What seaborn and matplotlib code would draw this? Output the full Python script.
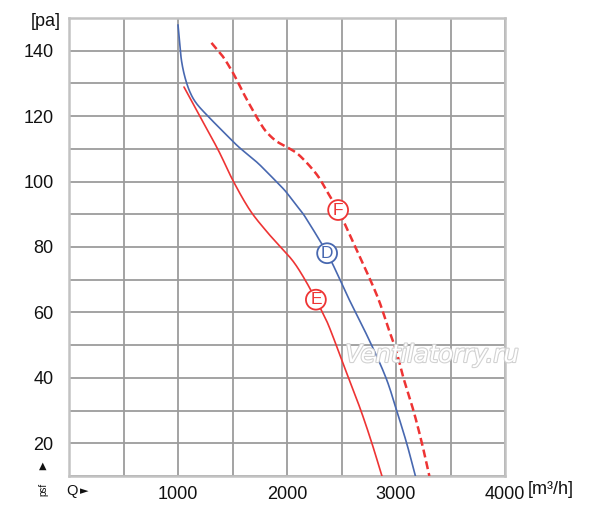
import numpy as np
import pandas as pd
import matplotlib
matplotlib.use("Agg")
import matplotlib.pyplot as plt
import matplotlib.patheffects as pe
import seaborn as sns

# ---- data ----
d_q = [1000, 1016, 1031, 1062, 1108, 1169, 1277, 1384, 1506, 1577, 1721, 1807, 1952, 2009,
       2120, 2178, 2368, 2500, 2571, 2755, 2908, 3006, 3098, 3178]
d_p = [147.9, 142.4, 137.2, 132.1, 127.5, 123.9, 119.9, 116.3, 112.2, 110.0, 106.0, 103.2, 98.3, 96.1,
       91.3, 88.6, 78.1, 69.0, 63.9, 51.5, 40.0, 30.0, 20.0, 10.0]

e_q = [1055, 1193, 1368, 1506, 1659, 1812, 1935, 2057, 2165, 2265, 2325, 2394, 2564, 2678, 2779, 2871]
e_p = [128.9, 120.4, 109.7, 100.2, 91.3, 84.8, 80.2, 75.6, 70.0, 63.9, 60.0, 55.0, 40.0, 30.0, 20.0, 10.0]

f_q = [1307, 1410, 1491, 1548, 1610, 1686, 1747, 1808, 1900, 1996, 2114, 2272, 2376, 2469,
       2512, 2696, 2836, 2926, 3000, 3068, 3160, 3238, 3306]
f_p = [142.4, 138.3, 134.0, 130.5, 126.4, 121.8, 118.3, 115.3, 112.4, 110.6, 108.0, 102.2, 96.5, 91.3,
       88.4, 75.0, 64.3, 55.5, 48.5, 40.0, 30.0, 20.0, 10.0]

curve_names = ["D", "E", "F"]
label_q = [2368, 2265, 2469]
label_p = [78.1, 63.9, 91.3]

x_ticks = [1000, 2000, 3000, 4000]
y_ticks = [20, 40, 60, 80, 100, 120, 140]

RED = "#ee3434"
BLUE = "#4868b0"
GRID = "#9c9c9c"


def smooth_path(q, p, n=12):
    """Catmull-Rom curve through the read points (drawing only)."""
    q = np.asarray(q, float)
    p = np.asarray(p, float)
    xs = q / 4000.0 * 436.0
    ys = p / 140.0 * 458.0
    pts = np.column_stack([xs, ys])
    pts = np.vstack([2 * pts[0] - pts[1], pts, 2 * pts[-1] - pts[-2]])
    out = []
    for i in range(1, len(pts) - 2):
        p0, p1, p2, p3 = pts[i - 1], pts[i], pts[i + 1], pts[i + 2]
        for t in np.linspace(0, 1, n, endpoint=False):
            t2, t3 = t * t, t * t * t
            pt = 0.5 * ((2 * p1) + (-p0 + p2) * t + (2 * p0 - 5 * p1 + 4 * p2 - p3) * t2
                        + (-p0 + 3 * p1 - 3 * p2 + p3) * t3)
            out.append(pt)
    out.append(pts[-2])
    out = np.array(out)
    return out[:, 0] / 436.0 * 4000.0, out[:, 1] / 458.0 * 140.0


frames = []
for name, q, p in zip(curve_names, [d_q, e_q, f_q], [d_p, e_p, f_p]):
    sq, sp = smooth_path(q, p)
    frames.append(pd.DataFrame({"Q": sq, "P": sp, "curve": name}))
df = pd.concat(frames, ignore_index=True)

sns.set_theme(style="white")
plt.rcParams["font.family"] = ["Liberation Sans", "DejaVu Sans"]

fig = plt.figure(figsize=(6.0, 5.13), dpi=100)
ax = fig.add_axes([69 / 600, 1 - 476 / 513, (505 - 69) / 600, (476 - 18) / 513])

palette = {"D": BLUE, "E": RED, "F": RED}
widths = {"D": 1.2, "E": 1.2, "F": 1.8}
for name in curve_names:
    sub = df[df["curve"] == name]
    sns.lineplot(data=sub, x="Q", y="P", sort=False, estimator=None, ax=ax,
                 color=palette[name], lw=widths[name],
                 linestyle=(0, (3.2, 1.6)) if name == "F" else "-",
                 zorder=3)

for name, q, p in zip(curve_names, label_q, label_p):
    c = palette[name]
    ax.text(q, p, name, color=c, fontsize=12.5, ha="center", va="center", zorder=5,
            bbox=dict(boxstyle="circle,pad=0.14", fc="white", ec=c, lw=1.3))

ax.set_xlim(0, 4000)
ax.set_ylim(10, 150)
ax.set_xticks(x_ticks)
ax.set_xticks(np.arange(0, 4001, 500), minor=True)
ax.set_yticks(y_ticks)
ax.set_yticks(np.arange(10, 151, 10), minor=True)
ax.set_xticklabels([str(v) for v in x_ticks])
ax.set_yticklabels([str(v) for v in y_ticks])
ax.grid(True, which="both", color=GRID, lw=1.3)
ax.tick_params(axis="both", which="both", length=0, labelsize=13, colors="#111111")
ax.tick_params(axis="y", pad=11)
ax.tick_params(axis="x", pad=7)
ax.set_xlabel("")
ax.set_ylabel("")
for s in ax.spines.values():
    s.set_color("#c2c2c2")
    s.set_linewidth(1.8)
ax.set_axisbelow(True)

fig.text(46 / 600, 1 - 22 / 513, "[pa]", fontsize=13, ha="center", va="center", color="#111111")
fig.text(528 / 600, 1 - 490 / 513, "[m³/h]", fontsize=13, ha="left", va="center", color="#111111")
fig.text(66 / 600, 1 - 491 / 513, "Q", fontsize=10.5, ha="left", va="center", color="#111111")
fig.text(80 / 600, 1 - 491 / 513, "►", fontsize=8, ha="left", va="center", color="#111111",
         family=["DejaVu Sans"])
fig.text(43 / 600, 1 - 466 / 513, "▲", fontsize=7, ha="center", va="center", color="#111111",
         family=["DejaVu Sans"])
fig.text(43 / 600, 1 - 489 / 513, "psf", fontsize=7, ha="center", va="center", rotation=90,
         color="#111111")

wm = ax.text((432 - 69) / 436, (476 - 355) / 458, "Ventilatorry.ru", transform=ax.transAxes,
             fontsize=17.5, style="italic", ha="center", va="center", color="white", zorder=4,
             family=["DejaVu Sans"])
wm.set_path_effects([pe.withStroke(linewidth=1.6, foreground="#d2d2d2")])

fig.savefig("out.png", dpi=100, facecolor="white")
